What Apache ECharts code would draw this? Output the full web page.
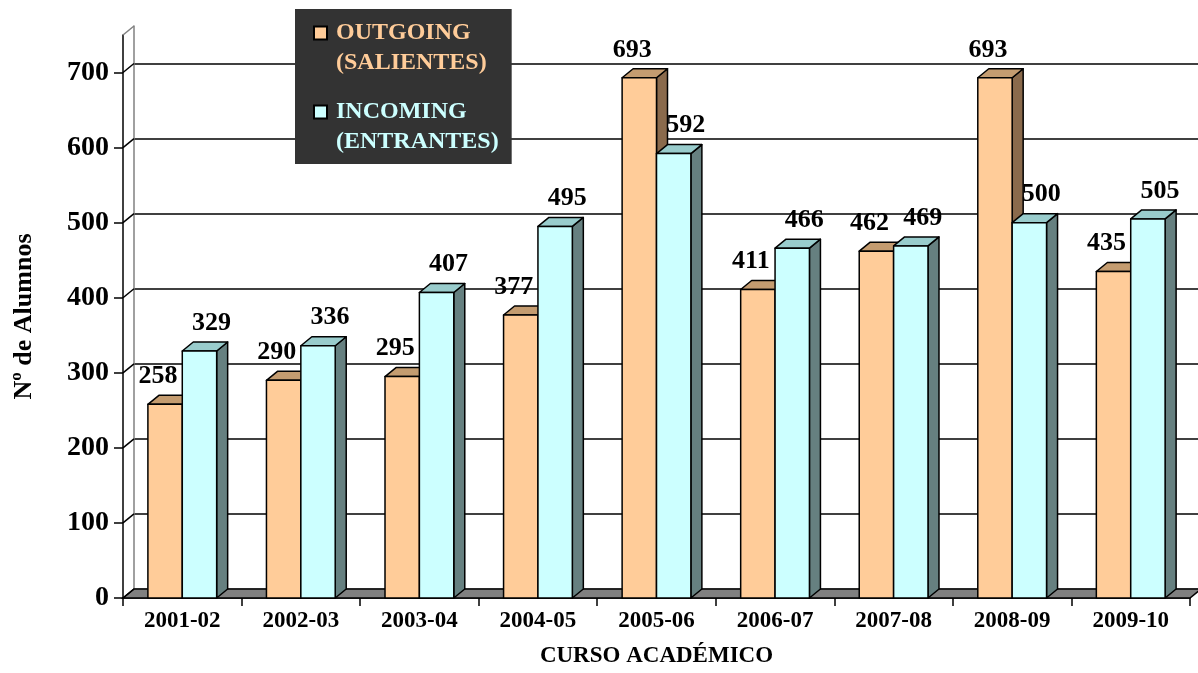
<!DOCTYPE html>
<html><head><meta charset="utf-8">
<script src="https://cdn.jsdelivr.net/npm/echarts@6/dist/echarts.min.js"></script>
<style>html,body{margin:0;padding:0;background:#fff}#c{width:1198px;height:673px}</style>
</head><body><div id="c"></div>
<script>
const categories = ['2001-02','2002-03','2003-04','2004-05','2005-06','2006-07','2007-08','2008-09','2009-10'];
const outgoing = [258,290,295,377,693,411,462,693,435];
const incoming = [329,336,407,495,592,466,469,500,505];
const yTicks = [0,100,200,300,400,500,600,700];
const seriesNames = ['OUTGOING (SALIENTES)','INCOMING (ENTRANTES)'];

const Y_MAX = 750, DX = 11, DY = 9;
const FONT = '"Liberation Serif", "Times New Roman", serif';
const BAR_FRAC = 0.29;
const PAL = [
  {front:'#FFCC99', top:'#C49C70', side:'#8A6A4C', text:'#FFCC99'},
  {front:'#CCFFFF', top:'#99CCCC', side:'#668080', text:'#CCFFFF'}
];

function barRender(s) {
  return function (params, api) {
    const i = api.value(0), v = api.value(1);
    const base = api.coord([i, 0]);
    const topP = api.coord([i, v]);
    const w = api.size([1, 0])[0] * BAR_FRAC;
    const x0 = s === 0 ? base[0] - w : base[0];
    const x1 = x0 + w;
    const yb = base[1], yt = topP[1];
    const st = (fill) => ({fill: fill, stroke: '#000', lineWidth: 1.5, lineJoin: 'round'});
    return {type: 'group', children: [
      {type: 'polygon', shape: {points: [[x1, yt], [x1 + DX, yt - DY], [x1 + DX, yb - DY], [x1, yb]]}, style: st(PAL[s].side)},
      {type: 'polygon', shape: {points: [[x0, yt], [x1, yt], [x1 + DX, yt - DY], [x0 + DX, yt - DY]]}, style: st(PAL[s].top)},
      {type: 'rect', shape: {x: x0, y: yt, width: w, height: yb - yt}, style: st(PAL[s].front)},
      {type: 'text', z2: 10, style: {text: String(v), x: (x0 + x1) / 2 + (s === 0 ? -7 : 12), y: yt - DY - 19,
        align: 'center', verticalAlign: 'middle', font: 'bold 26px ' + FONT, fill: '#000'}}
    ]};
  };
}

function floorRender(params, api) {
  const bw = api.size([1, 0])[0];
  const l = api.coord([0, 0]);
  const r = api.coord([categories.length - 1, 0]);
  const x0 = l[0] - bw / 2, x1 = r[0] + bw / 2, y = l[1];
  const top = api.coord([0, Y_MAX])[1];
  const children = [
    {type: 'polygon', shape: {points: [[x0, y], [x1, y], [x1 + DX, y - DY], [x0 + DX, y - DY]]},
      style: {fill: '#808080', stroke: '#000', lineWidth: 1.5}},
    {type: 'line', shape: {x1: x0, y1: top, x2: x0 + DX, y2: top - DY}, style: {stroke: '#808080', lineWidth: 1.5}}
  ];
  yTicks.forEach(t => {
    const yy = api.coord([0, t])[1];
    children.push({type: 'line', shape: {x1: x0, y1: yy, x2: x0 + DX, y2: yy - DY}, style: {stroke: '#000', lineWidth: 1.5}});
  });
  return {type: 'group', children: children};
}

const chart = echarts.init(document.getElementById('c'), null, {renderer: 'canvas'});
const boldTxt = (size) => ({fontFamily: FONT, fontWeight: 'bold', fontSize: size, color: '#000'});

chart.setOption({
  animation: false,
  backgroundColor: '#fff',
  grid: [
    {left: 123, right: 8, top: 35, bottom: 75, outerBoundsMode: 'none'},
    {left: 123 + DX, right: 8 - DX, top: 35 - DY, bottom: 75 + DY, outerBoundsMode: 'none'}
  ],
  legend: {
    left: 295, top: 9, orient: 'vertical',
    backgroundColor: '#333333',
    padding: [9, 13, 7, 18],
    itemGap: 19, itemWidth: 17, itemHeight: 43,
    icon: 'path://M0,0L13,0L13,13L0,13Z M17,43L17,43.01',
    formatter: n => n.replace(' ', '\n'),
    textStyle: {fontFamily: FONT, fontWeight: 'bold', fontSize: 24, lineHeight: 30},
    data: seriesNames.map((n, k) => ({
      name: n,
      textStyle: {color: PAL[k].text},
      itemStyle: {color: PAL[k].front, borderColor: '#000', borderWidth: 2}
    }))
  },
  xAxis: [
    {gridIndex: 0, type: 'category', data: categories, boundaryGap: true,
      axisLine: {show: true, lineStyle: {color: '#000', width: 1.5}},
      axisTick: {show: true, length: 8, lineStyle: {color: '#000', width: 1.5}},
      axisLabel: Object.assign({margin: 12}, boldTxt(23)),
      splitLine: {show: false},
      name: 'CURSO ACADÉMICO', nameLocation: 'middle', nameGap: 47,
      nameTextStyle: boldTxt(23)},
    {gridIndex: 1, type: 'category', data: categories, position: 'top',
      axisLine: {show: true, lineStyle: {color: '#808080', width: 1.5}},
      axisTick: {show: false}, axisLabel: {show: false}, splitLine: {show: false}}
  ],
  yAxis: [
    {gridIndex: 0, type: 'value', min: 0, max: Y_MAX, interval: 100,
      axisLine: {show: true, lineStyle: {color: '#000', width: 1.5}},
      axisTick: {show: true, length: 9, customValues: yTicks, lineStyle: {color: '#000', width: 1.5}},
      axisLabel: Object.assign({margin: 14, customValues: yTicks}, boldTxt(28)),
      splitLine: {show: false},
      name: 'Nº de Alumnos', nameLocation: 'middle', nameGap: 86, nameRotate: 90,
      nameTextStyle: boldTxt(26)},
    {gridIndex: 1, type: 'value', min: 0, max: Y_MAX, interval: 100,
      axisLine: {show: true, lineStyle: {color: '#808080', width: 1.5}},
      axisTick: {show: false}, axisLabel: {show: false},
      splitLine: {show: true, showMinLine: false, showMaxLine: false, lineStyle: {color: '#000', width: 1.5}}}
  ],
  series: [
    {type: 'custom', name: 'floor', xAxisIndex: 0, yAxisIndex: 0, z: 1, silent: true,
      renderItem: floorRender, data: [[0, 0]], encode: {x: 0, y: 1}},
    {type: 'custom', name: seriesNames[0], xAxisIndex: 0, yAxisIndex: 0, z: 3,
      itemStyle: {color: PAL[0].front},
      renderItem: barRender(0), data: outgoing.map((v, i) => [i, v]), encode: {x: 0, y: 1}},
    {type: 'custom', name: seriesNames[1], xAxisIndex: 0, yAxisIndex: 0, z: 4,
      itemStyle: {color: PAL[1].front},
      renderItem: barRender(1), data: incoming.map((v, i) => [i, v]), encode: {x: 0, y: 1}}
  ]
});
</script></body></html>
